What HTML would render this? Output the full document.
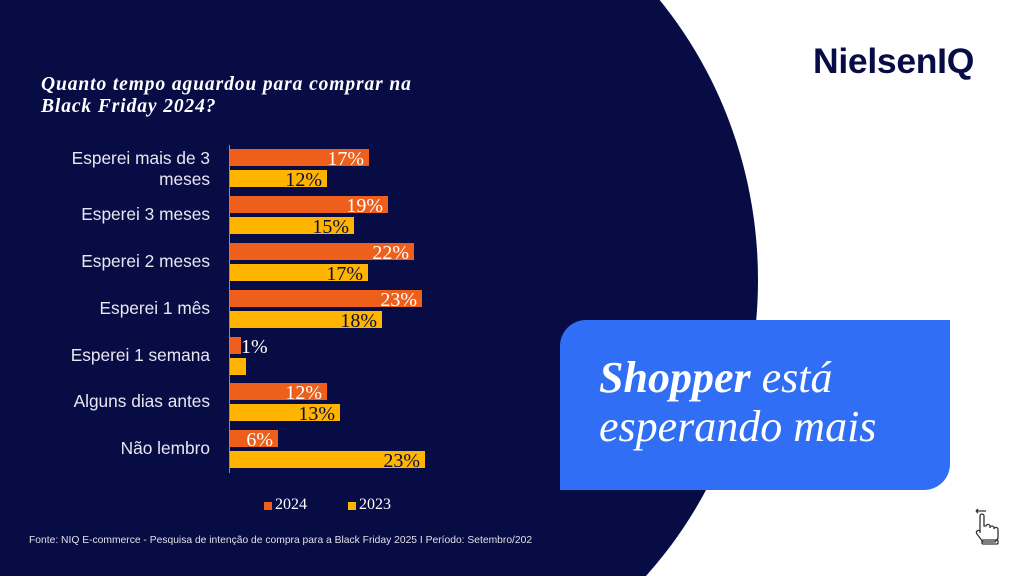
<!DOCTYPE html>
<html><head><meta charset="utf-8"><style>
*{margin:0;padding:0}
html,body{width:1024px;height:576px;overflow:hidden}
body{background:#fff;position:relative;font-family:"Liberation Sans",sans-serif}
.abs{position:absolute}
.cat{position:absolute;right:814px;color:#e8e8f0;font-size:17.3px;text-align:right;line-height:21px;white-space:nowrap}
.bar{position:absolute;left:230px;height:17px}
.o{background:#ee5f1b}
.y{background:#ffb400}
.v{position:absolute;font-family:"Liberation Serif",serif;font-size:20px;line-height:17px;text-align:right;white-space:nowrap}
</style></head><body>
<svg class="abs" style="left:0;top:0" width="1024" height="576">
<ellipse cx="350" cy="280" rx="408" ry="430" fill="#070c45"/>
<rect x="0" y="0" width="350" height="576" fill="#070c45"/>
<line x1="229.5" y1="145" x2="229.5" y2="473" stroke="#8a8aa0" stroke-width="1"/>
</svg>
<div class="abs" style="left:41px;top:74px;color:#fff;font-family:'Liberation Serif',serif;font-style:italic;font-weight:bold;font-size:19.5px;letter-spacing:0.9px;line-height:22px;white-space:nowrap">Quanto tempo aguardou para comprar na<br>Black Friday 2024?</div>

<div class="cat" style="top:148px">Esperei mais de 3<br>meses</div>
<div class="cat" style="top:204px">Esperei 3 meses</div>
<div class="cat" style="top:251px">Esperei 2 meses</div>
<div class="cat" style="top:298px">Esperei 1 mês</div>
<div class="cat" style="top:345px">Esperei 1 semana</div>
<div class="cat" style="top:391px">Alguns dias antes</div>
<div class="cat" style="top:438px">Não lembro</div>

<div class="bar o" style="top:149px;width:139px"></div><div class="v" style="top:151px;left:230px;width:134px;color:#fff">17%</div>
<div class="bar y" style="top:170px;width:97px"></div><div class="v" style="top:172px;left:230px;width:92px;color:#070c45">12%</div>
<div class="bar o" style="top:196px;width:158px"></div><div class="v" style="top:198px;left:230px;width:153px;color:#fff">19%</div>
<div class="bar y" style="top:217px;width:124px"></div><div class="v" style="top:219px;left:230px;width:119px;color:#070c45">15%</div>
<div class="bar o" style="top:243px;width:184px"></div><div class="v" style="top:245px;left:230px;width:179px;color:#fff">22%</div>
<div class="bar y" style="top:264px;width:138px"></div><div class="v" style="top:266px;left:230px;width:133px;color:#070c45">17%</div>
<div class="bar o" style="top:290px;width:192px"></div><div class="v" style="top:292px;left:230px;width:187px;color:#fff">23%</div>
<div class="bar y" style="top:311px;width:152px"></div><div class="v" style="top:313px;left:230px;width:147px;color:#070c45">18%</div>
<div class="bar o" style="top:337px;width:11px"></div><div class="v" style="top:339px;left:241px;color:#fff;text-align:left">1%</div>
<div class="bar y" style="top:358px;width:16px"></div>
<div class="bar o" style="top:383px;width:97px"></div><div class="v" style="top:385px;left:230px;width:92px;color:#fff">12%</div>
<div class="bar y" style="top:404px;width:110px"></div><div class="v" style="top:406px;left:230px;width:105px;color:#070c45">13%</div>
<div class="bar o" style="top:430px;width:48px"></div><div class="v" style="top:432px;left:230px;width:43px;color:#fff">6%</div>
<div class="bar y" style="top:451px;width:195px"></div><div class="v" style="top:453px;left:230px;width:190px;color:#070c45">23%</div>

<div class="abs" style="left:264px;top:502px;width:8px;height:8px;background:#ee5f1b"></div>
<div class="abs" style="left:275px;top:496px;color:#fff;font-family:'Liberation Serif',serif;font-size:16px">2024</div>
<div class="abs" style="left:348px;top:502px;width:8px;height:8px;background:#ffb400"></div>
<div class="abs" style="left:359px;top:496px;color:#fff;font-family:'Liberation Serif',serif;font-size:16px">2023</div>
<div class="abs" style="left:29px;top:535px;color:#e0e0e8;font-size:10.3px;white-space:nowrap">Fonte: NIQ E-commerce - Pesquisa de intenção de compra para a Black Friday 2025 I Período: Setembro/202</div>

<div class="abs" style="left:813px;top:41px;color:#070c45;font-weight:bold;font-size:35.5px;letter-spacing:-0.3px;white-space:nowrap">NielsenIQ</div>

<div class="abs" style="left:560px;top:320px;width:390px;height:170px;background:#2f6ef5;border-radius:26px 0 26px 0"></div>
<div class="abs" style="left:599px;top:353px;color:#fff;font-family:'Liberation Serif',serif;font-style:italic;font-size:44px;line-height:49px;white-space:nowrap"><b>Shopper</b> está<br>esperando mais</div>

<svg class="abs" style="left:970px;top:506px" width="36" height="40" viewBox="0 0 36 40" fill="none" stroke="#333" stroke-width="1.3">
<path d="M6 5h10M6 5l2-2M6 5l2 2"/>
<path d="M10 27V10a2 2 0 0 1 4 0v10h2a2 2 0 0 1 4 1v1a2 2 0 0 1 4 0v1a2 2 0 0 1 4 1v8l-3 4H13l-6-8a2 2 0 0 1 3-3z"/>
<rect x="12" y="34" width="16" height="4" rx="1"/>
</svg>
</body></html>
